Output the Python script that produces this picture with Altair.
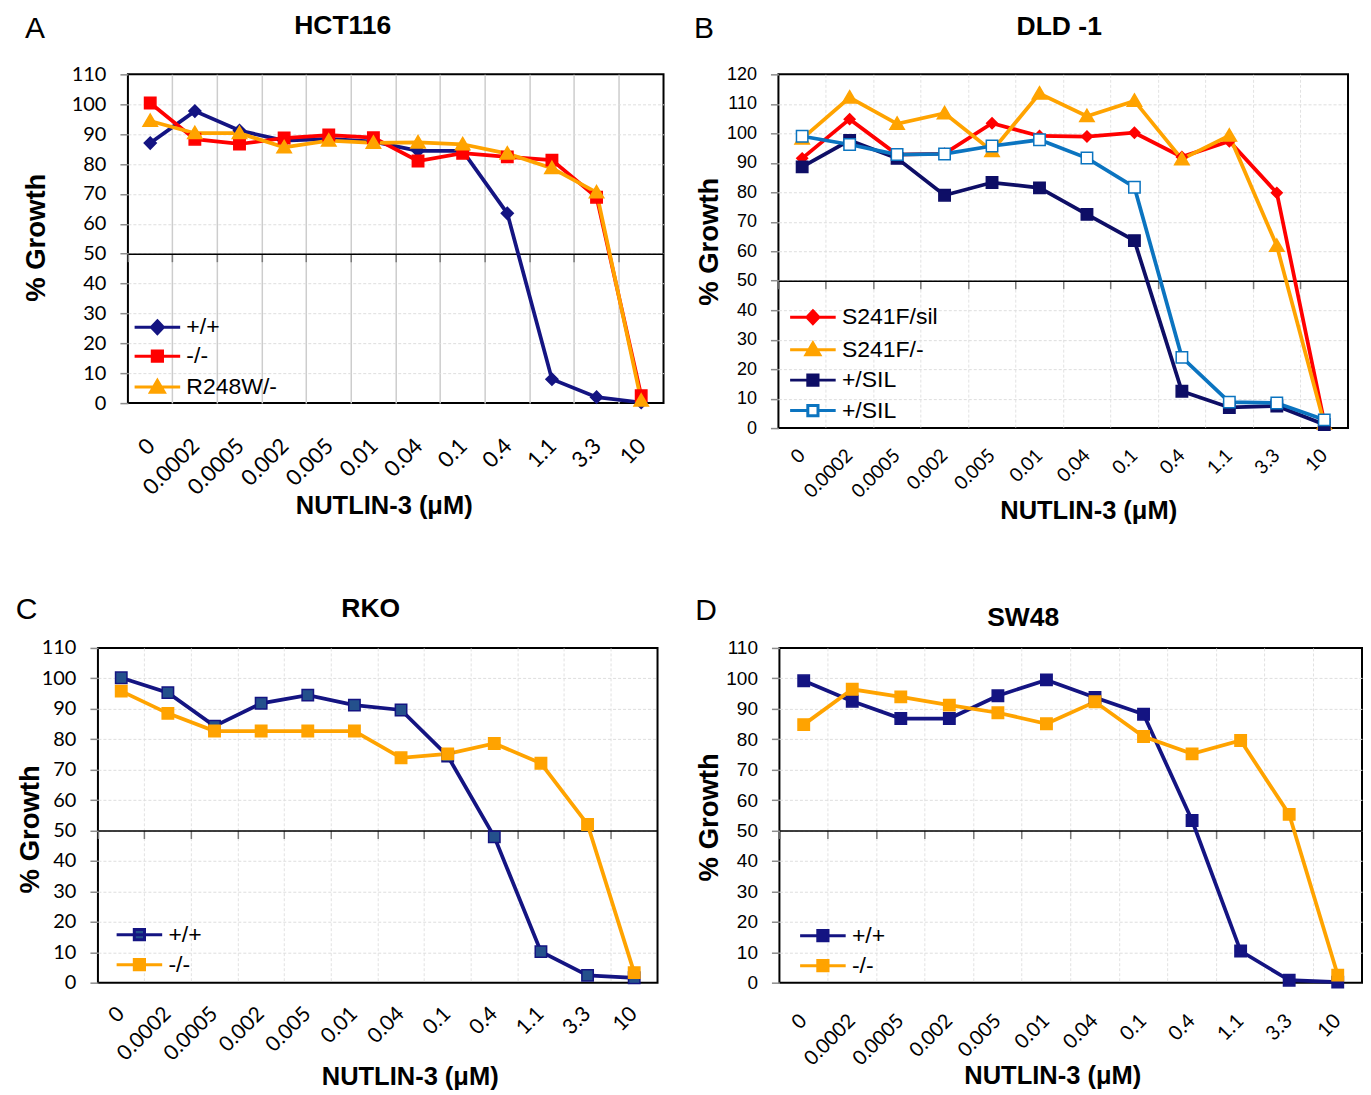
import altair as alt
import pandas as pd

doses = ["0", "0.0002", "0.0005", "0.002", "0.005", "0.01", "0.04", "0.1", "0.4", "1.1", "3.3", "10"]

# Panel A  HCT116
a_series = ["+/+", "-/-", "R248W/-"]
a_wt = [87.0, 97.7, 91.2, 87.8, 88.4, 87.5, 84.4, 84.4, 63.5, 8.0, 2.0, 0.2]
a_ko = [100.4, 88.3, 86.7, 88.7, 89.7, 88.8, 81.0, 83.6, 82.4, 81.3, 68.9, 2.5]
a_r248 = [94.4, 90.3, 90.3, 85.6, 87.8, 87.1, 87.2, 86.6, 83.5, 78.6, 70.5, 0.8]

# Panel B  DLD-1
b_series = ["S241F/sil", "S241F/-", "+/SIL", "+/SIL "]
b_sil = [91.5, 104.8, 92.8, 93.1, 103.4, 99.1, 98.9, 100.2, 92.0, 97.3, 79.8, 2.0]
b_s241 = [98.2, 112.1, 103.2, 106.8, 94.0, 113.5, 105.8, 111.0, 91.2, 99.2, 61.8, 1.5]
b_wt_a = [88.6, 97.6, 91.5, 79.0, 83.3, 81.5, 72.5, 63.6, 12.5, 7.0, 7.5, 1.2]
b_wt_b = [99.0, 96.2, 92.8, 93.0, 95.7, 97.8, 91.6, 81.7, 24.0, 8.8, 8.5, 2.8]

# Panel C  RKO
c_series = ["+/+", "-/-"]
c_wt = [100.2, 95.3, 84.3, 91.8, 94.5, 91.2, 89.6, 74.5, 47.9, 10.2, 2.4, 1.6]
c_ko = [95.8, 88.5, 82.7, 82.7, 82.7, 82.7, 73.9, 75.2, 78.6, 72.1, 52.0, 3.3]

# Panel D  SW48
d_series = ["+/+", "-/-"]
d_wt = [99.2, 92.5, 86.8, 86.8, 94.3, 99.5, 93.7, 88.2, 53.3, 10.4, 0.8, 0.2]
d_ko = [84.8, 96.4, 93.9, 91.2, 88.7, 85.1, 92.3, 80.9, 75.2, 79.6, 55.3, 2.5]

NAVY = "#141482"
NAVY_B = "#0e0e66"
RED = "#ff0000"
ORANGE = "#ffa300"
BLUE = "#0b74c0"
STEEL = "#24508c"

DIAMOND = "M0,-1L1,0L0,1L-1,0Z"
DIAMOND_S = "M0,-0.9L0.9,0L0,0.9L-0.9,0Z"
SQUARE = "M-0.95,-0.95H0.95V0.95H-0.95Z"
TRIANGLE = "M0,-1.15L1.2,0.9L-1.2,0.9Z"

LINE = "M-3.8,0H3.8"
LINE_GAP = "M-3.8,0H-0.9M0.9,0H3.8"
L_DIAMOND = LINE + "M0,-1.05L1,0L0,1.05L-1,0Z"
L_SQUARE = LINE + "M-0.85,-0.85H0.85V0.85H-0.85Z"
L_OPEN_SQUARE = LINE_GAP + "M-0.85,-0.85H0.85V0.85H-0.85Z"
L_TRIANGLE = LINE + "M0,-1.1L1.15,0.85L-1.15,0.85Z"


def make_df(series, values):
    rows = []
    for s, vals in zip(series, values):
        for i, (d, v) in enumerate(zip(doses, vals)):
            rows.append({"dose": d, "val": v, "series": s, "ord": i})
    return pd.DataFrame(rows)


def panel(df, order, strokes, fills, shapes, lpaths, ymax, w, h, K, T, Hb,
          letter, lxy, title, txy, yfont, yfs, xfs, xlab_extra, xlabpad,
          xtxy, ytxy, legxy, rowpad, gx, gxw, gxdash):
    xax = alt.Axis(
        orient="bottom", offset=-h * 50.0 / ymax, bandPosition=0,
        grid=True, gridColor=gx, gridWidth=gxw, gridDash=gxdash,
        gridOpacity={"condition": {"test": "datum.value == '0'", "value": 0}, "value": 1},
        ticks=True, tickSize=8, tickColor="#7a7a7a", tickWidth=1.5,
        domain=True, domainColor="black", domainWidth=1.5,
        labelAngle=-45, labelAlign="right", labelBaseline="middle",
        labelOffset=xlab_extra, labelPadding=xlabpad,
        labelFont="Lato", labelFontSize=xfs, labelColor="black",
        labelOverlap=False, labelFlush=False,
        title="NUTLIN-3 (μM)", titleFont="Liberation Sans", titleFontSize=25.5,
        titleFontWeight="bold", titleColor="black",
        titleX=xtxy[0], titleY=xtxy[1], titleBaseline="middle", titleAlign="center",
    )
    yax = alt.Axis(
        values=list(range(0, ymax + 1, 10)),
        grid=True, gridColor="#dedede", gridDash=[3, 2], gridWidth=1,
        gridOpacity={"condition": {"test": f"datum.value == 0 || datum.value == {ymax}",
                                   "value": 0}, "value": 1},
        ticks=True, tickSize=8, tickColor="#8c8c8c", tickWidth=1.5,
        domain=False, labelFont=yfont, labelFontSize=yfs, labelColor="black",
        labelPadding=14,
        title="% Growth", titleFont="Liberation Sans", titleFontSize=27.5,
        titleFontWeight="bold", titleColor="black", titleAngle=270,
        titleX=ytxy[0], titleY=ytxy[1], titleBaseline="middle", titleAlign="center",
    )
    x = alt.X("dose:N", sort=doses,
              scale=alt.Scale(type="band", paddingInner=0, paddingOuter=0), axis=xax)
    y = alt.Y("val:Q", scale=alt.Scale(domain=[0, ymax], nice=False), axis=yax)

    base = alt.Chart(df)
    lines = base.mark_line(strokeWidth=3.75).encode(
        x=x, y=y, order="ord:Q",
        stroke=alt.Stroke("series:N", scale=alt.Scale(domain=order, range=strokes), legend=None),
    )
    pts = base.mark_point(filled=True, opacity=1, strokeWidth=1.5, size=144).encode(
        x=x, y=y,
        fill=alt.Fill("series:N", scale=alt.Scale(domain=order, range=fills), legend=None),
        stroke=alt.Stroke("series:N", scale=alt.Scale(domain=order, range=strokes), legend=None),
        shape=alt.Shape("series:N", scale=alt.Scale(domain=order, range=shapes), legend=None),
    )
    leg = alt.Legend(
        title=None, orient="none", legendX=legxy[0], legendY=legxy[1], padding=0,
        labelFont="Liberation Sans", labelFontSize=23, labelColor="black",
        symbolSize=144, symbolStrokeWidth=3, labelOffset=17.5, rowPadding=rowpad,
        symbolOpacity=1,
    )
    legl = base.transform_filter("false").mark_point(
        filled=True, opacity=1, strokeWidth=3, size=144).encode(
        x=x, y=y,
        fill=alt.Fill("series:N", scale=alt.Scale(domain=order, range=fills), legend=leg),
        stroke=alt.Stroke("series:N", scale=alt.Scale(domain=order, range=strokes), legend=leg),
        shape=alt.Shape("series:N", scale=alt.Scale(domain=order, range=lpaths), legend=leg),
    )
    one = pd.DataFrame({"t": [letter], "u": [title]})
    bound = alt.Chart(one).mark_rule(opacity=0, strokeOpacity=0).encode(
        x=alt.value(-K), y=alt.value(-T), y2=alt.value(Hb))
    let_t = alt.Chart(one).mark_text(
        font="Liberation Sans", fontSize=30, align="center", baseline="middle",
        color="black").encode(x=alt.value(lxy[0]), y=alt.value(lxy[1]), text="t:N")
    tit_t = alt.Chart(one).mark_text(
        font="Liberation Sans", fontSize=26.5, fontWeight="bold", align="center",
        baseline="middle", color="black").encode(
        x=alt.value(txy[0]), y=alt.value(txy[1]), text="u:N")
    return alt.layer(lines, pts, legl, bound, let_t, tit_t).resolve_scale(
        fill="independent", stroke="independent", shape="independent"
    ).properties(width=w, height=h,
                 view=alt.ViewBackground(stroke="black", strokeWidth=2))


def spacer():
    return alt.Chart(pd.DataFrame({"s": [0]})).mark_rule(opacity=0, strokeOpacity=0).encode(
        x=alt.value(0), y=alt.value(0), y2=alt.value(1)).properties(width=1, height=1)


dfA = make_df(a_series, [a_wt, a_ko, a_r248])
dfB = make_df(b_series, [b_sil, b_s241, b_wt_a, b_wt_b])
dfC = make_df(c_series, [c_wt, c_ko])
dfD = make_df(d_series, [d_wt, d_ko])

A = panel(dfA, a_series, [NAVY, RED, ORANGE], [NAVY, RED, ORANGE],
          [DIAMOND, SQUARE, TRIANGLE], [L_DIAMOND, L_SQUARE, L_TRIANGLE],
          110, 536, 329, 118, 65, 470,
          "A", (-93, -45), "HCT116", (215, -48), "Lato", 20, 22, 1, 180.5,
          (256, 252.5), (-91, 163), (18, 241.5), 5, "#cdcdcd", 1.5, [1, 0])

B = panel(dfB, b_series, [RED, ORANGE, NAVY_B, BLUE], [RED, ORANGE, NAVY_B, "white"],
          [DIAMOND_S, TRIANGLE, SQUARE, SQUARE],
          [L_DIAMOND, L_TRIANGLE, L_SQUARE, L_OPEN_SQUARE],
          120, 570, 354, 113, 65, 470,
          "B", (-74.5, -45.5), "DLD -1", (281, -47), "Liberation Sans", 18, 19, 0, 163.5,
          (310, 229.5), (-69, 167), (23, 231.5), 6.5, "#e2e2e2", 1, [3, 2])

C = panel(dfC, c_series, [NAVY, ORANGE], [STEEL, ORANGE],
          [SQUARE, SQUARE], [L_SQUARE, L_SQUARE],
          110, 560, 335, 88, 102, 335,
          "C", (-71.5, -37.5), "RKO", (273, -39), "Lato", 20, 21, 0, 172,
          (312, 246), (-67, 181), (30, 275.5), 6, "#e2e2e2", 1, [3, 2])

D = panel(dfD, d_series, [NAVY, ORANGE], [NAVY, ORANGE],
          [SQUARE, SQUARE], [L_SQUARE, L_SQUARE],
          110, 583, 335, 120, 102, 335,
          "D", (-73.5, -36.5), "SW48", (244, -30), "Liberation Sans", 19, 20, 0, 179,
          (273, 245), (-70, 169), (32, 276.5), 6, "#e2e2e2", 1, [3, 2])

chart = alt.vconcat(
    alt.hconcat(spacer(), A, B, spacing=0),
    alt.hconcat(spacer(), C, D, spacing=0),
    spacing=0,
).properties(padding=0, background="white").configure_view(stroke="transparent", strokeWidth=0)

chart.save("out.html", embed_options={"renderer": "svg", "actions": False})
